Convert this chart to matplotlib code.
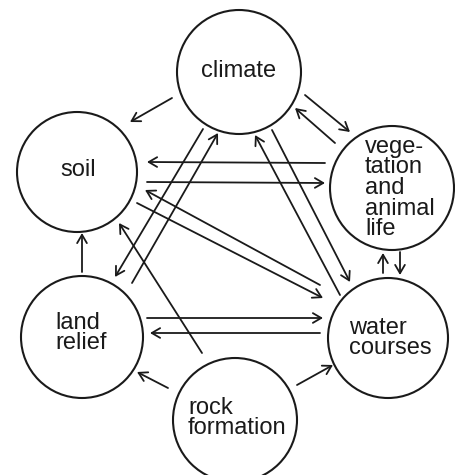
import matplotlib.pyplot as plt
from matplotlib.patches import Circle, FancyArrowPatch

# =========================
# DATA (pixel coords, y down)
# =========================

node_labels = ["climate", "soil", "vege-\ntation\nand\nanimal\nlife",
               "land\nrelief", "water\ncourses", "rock\nformation"]
node_x = [239, 77, 392, 82, 388, 235]
node_y = [72, 172, 188, 337, 338, 420]
node_r = [62, 60, 62, 61, 60, 62]

# text anchor for each label: (x, y, horizontal alignment)
text_x = [239, 78, 365, 55, 349, 188]
text_y = [71, 170, 188, 333, 338, 418]
text_ha = ["center", "center", "left", "left", "left", "left"]

# arrows: start point -> end point (head at end)
arrow_start = [
    (172, 98), (305, 95), (335, 143),
    (325, 163), (147, 182),
    (203, 129), (132, 283),
    (320, 285), (137, 203),
    (202, 353), (82, 272),
    (340, 295), (272, 130),
    (383, 273), (400, 252),
    (147, 318), (320, 333),
    (168, 388), (297, 385),
]
arrow_end = [
    (130, 122), (350, 132), (295, 108),
    (147, 162), (325, 183),
    (115, 277), (218, 133),
    (145, 190), (323, 298),
    (119, 223), (82, 233),
    (255, 135), (350, 282),
    (383, 253), (400, 275),
    (323, 318), (150, 333),
    (137, 372), (333, 365),
]

# =========================
# FIGURE
# =========================

plt.rcParams['font.family'] = ['Liberation Sans', 'DejaVu Sans']

fig = plt.figure(figsize=(4.55, 4.75), dpi=100)
ax = fig.add_axes([0, 0, 1, 1])
ax.set_xlim(0, 455)
ax.set_ylim(475, 0)
ax.set_aspect("equal")
ax.axis("off")

for x, y, r in zip(node_x, node_y, node_r):
    ax.add_patch(Circle((x, y), r, fill=False, ec="#1a1a1a", lw=1.5))

for label, x, y, ha in zip(node_labels, text_x, text_y, text_ha):
    ax.text(x, y, label, ha=ha, va="center", fontsize=17,
            linespacing=0.92, color="#1a1a1a")

for s, e in zip(arrow_start, arrow_end):
    ax.add_patch(FancyArrowPatch(s, e, arrowstyle="->,head_length=6,head_width=3.5",
                                 color="#1a1a1a", lw=1.3, shrinkA=0, shrinkB=0))

fig.savefig("out.png", dpi=100, facecolor="white")
